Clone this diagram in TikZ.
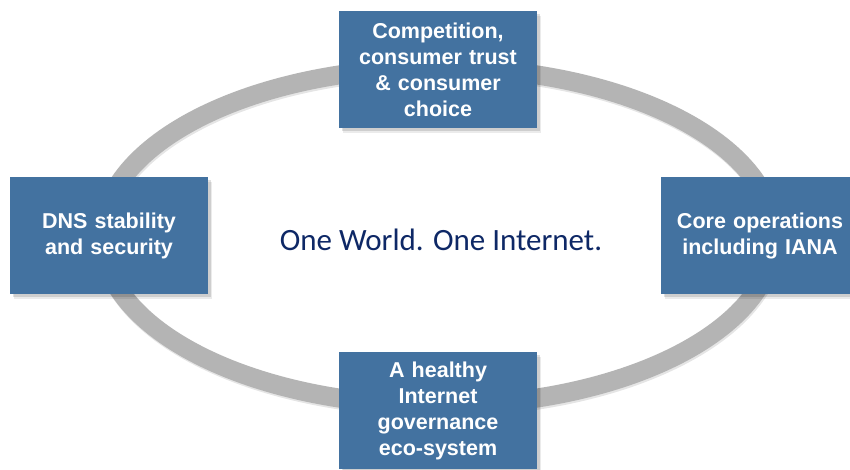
\documentclass[tikz,border=0pt]{standalone}
\usepackage{fontspec}
\setmainfont{Liberation Sans}
\newfontfamily\carlito{Carlito}
\definecolor{boxblue}{RGB}{67,114,160}
\definecolor{ringgray}{RGB}{180,180,180}
\definecolor{navy}{RGB}{14,40,102}
\begin{document}
\begin{tikzpicture}[x=1pt,y=-1pt,
  topicbox/.style={fill=boxblue, text=white, minimum width=198pt, minimum height=117pt,
    text width=190pt, inner sep=4pt, align=center,
    font=\bfseries\fontsize{21.5}{26}\selectfont},
  boxshadow/.style={fill=black, opacity=0.12, minimum width=198pt, minimum height=117pt, inner sep=0pt}]
\useasboundingbox (0,0) rectangle (850,470);
\clip (0,0) rectangle (850,470);
\fill[white] (0,0) rectangle (850,470);
% ring
\draw[line width=19pt, black, opacity=0.10] (439,238.5) ellipse [x radius=336pt, y radius=169pt];
\draw[line width=19pt, ringgray] (438,236.5) ellipse [x radius=336pt, y radius=169pt];
% shadows
\foreach \cx/\cy in {438/69.5, 109/235.5, 760/235.5, 438/410.5}{
  \node[boxshadow] at (\cx+2.5,\cy+3) {};
  \node[boxshadow, opacity=0.08] at (\cx+4,\cy+5) {};
}
% boxes
\node[topicbox] (top) at (438,69.5) {Competition,\\consumer trust\\\& consumer\\choice};
\node[topicbox] (left) at (109,235.5) {DNS stability\\and security};
\node[topicbox] (right) at (760,235.5) {Core operations\\including IANA};
\node[topicbox] (bottom) at (438,410.5) {A healthy\\Internet\\governance\\eco-system};
\node[text=navy, font=\carlito\fontsize{31}{36}\selectfont, inner sep=0pt] (center) at (441,240) {One World. One Internet.};
\end{tikzpicture}
\end{document}
